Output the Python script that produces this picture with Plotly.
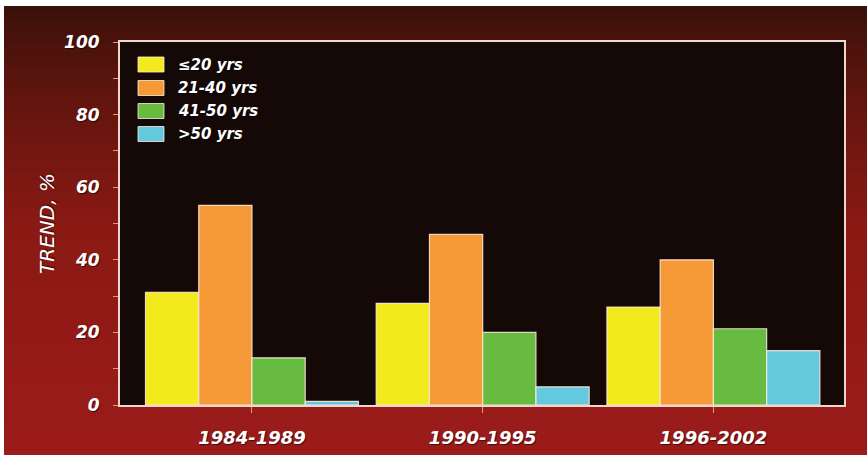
import plotly.graph_objects as go

# Data: share (%) of each age group per period
periods = ["1984-1989", "1990-1995", "1996-2002"]
age_groups = ["≤20 yrs", "21-40 yrs", "41-50 yrs", ">50 yrs"]
le20 = [31, 28, 27]
y21_40 = [55, 47, 40]
y41_50 = [13, 20, 21]
gt50 = [1, 5, 15]
colors = ["#f2ea1c", "#f59a36", "#67bb40", "#64c9dd"]

series = [le20, y21_40, y41_50, gt50]

W, H = 867, 455
L, R, T, B = 120, 23, 42, 50
PW, PH = W - L - R, H - T - B
FONT = "DejaVu Sans"
SHADOW = "1px 1px 1px rgba(0,0,0,0.6)"


def px_x(px):
    return (px - L) / PW


def px_y(py):
    return (H - B - py) / PH


fig = go.Figure()
for name, vals, col in zip(age_groups, series, colors):
    fig.add_trace(go.Bar(
        x=periods, y=vals, name=name, showlegend=False,
        marker=dict(color=col, line=dict(color="rgba(255,236,222,0.85)", width=1.2)),
    ))

shapes = []
# vertical dark-to-red gradient behind everything, leaving a thin white edge
top_c = (58, 17, 10)
mid_c = (140, 26, 20)
bot_c = (156, 28, 27)
n = 60
y_start, y_end = 6, H + 4
for i in range(n):
    y0 = y_start + (y_end - y_start) * i / n
    y1 = y_start + (y_end - y_start) * (i + 1) / n
    t = i / (n - 1)
    if t < 0.5:
        k = (t / 0.5) ** 0.8
        c = [a + (b - a) * k for a, b in zip(top_c, mid_c)]
    else:
        k = (t - 0.5) / 0.5
        c = [a + (b - a) * k for a, b in zip(mid_c, bot_c)]
    shapes.append(dict(
        type="rect", xref="paper", yref="paper", layer="below",
        x0=px_x(4), x1=px_x(W + 2), y0=px_y(min(y1 + 4, H + 4)), y1=px_y(y0),
        fillcolor="rgb(%d,%d,%d)" % tuple(int(v) for v in c), line=dict(width=0),
    ))

# dark plotting panel on top of the gradient
shapes.append(dict(
    type="rect", xref="paper", yref="paper", layer="below",
    x0=0, x1=1, y0=0, y1=1, fillcolor="#150908", line=dict(width=0),
))

# legend swatches and labels
annotations = []
row_y = [64.5, 88, 111, 134]
for name, col, ry in zip(age_groups, colors, row_y):
    shapes.append(dict(
        type="rect", xref="paper", yref="paper",
        x0=px_x(138), x1=px_x(164), y0=px_y(ry + 7.5), y1=px_y(ry - 7.5),
        fillcolor=col, line=dict(color="rgba(255,236,222,0.8)", width=1),
    ))
    annotations.append(dict(
        xref="paper", yref="paper", x=px_x(176), y=px_y(ry), text=name,
        showarrow=False, xanchor="left", yanchor="middle",
        font=dict(family=FONT, size=15, color="white", weight="bold",
                  style="italic", shadow=SHADOW),
    ))

axis_line = "#f0d6cb"
tick_font = dict(family=FONT, size=18, color="white",
                 weight="bold", style="italic", shadow=SHADOW)

fig.update_layout(
    width=W, height=H,
    margin=dict(l=L, r=R, t=T, b=B),
    paper_bgcolor="white",
    plot_bgcolor="#150908",
    barmode="group", bargap=0.077, bargroupgap=0,
    shapes=shapes, annotations=annotations,
    xaxis=dict(
        range=[-0.572, 2.566], showline=True, linecolor=axis_line, linewidth=2,
        mirror=True, showgrid=False, ticks="outside", ticklen=6,
        tickcolor="#e89a6a", tickwidth=1, tickfont=tick_font,
        ticklabelstandoff=9, automargin=False,
    ),
    yaxis=dict(
        range=[0, 100], dtick=20, showline=True, linecolor=axis_line, linewidth=2,
        mirror=True, showgrid=False, zeroline=False, ticks="outside", ticklen=5,
        tickcolor="#e89a6a", tickfont=dict(tick_font, size=17), ticklabelstandoff=10,
        minor=dict(dtick=10, ticks="outside", ticklen=5, tickcolor="#e89a6a"),
        automargin=False,
        title=dict(text="TREND, %", standoff=4,
                   font=dict(family=FONT, size=20, color="white", style="italic",
                             shadow=SHADOW)),
    ),
)

fig.write_html("out.html")
